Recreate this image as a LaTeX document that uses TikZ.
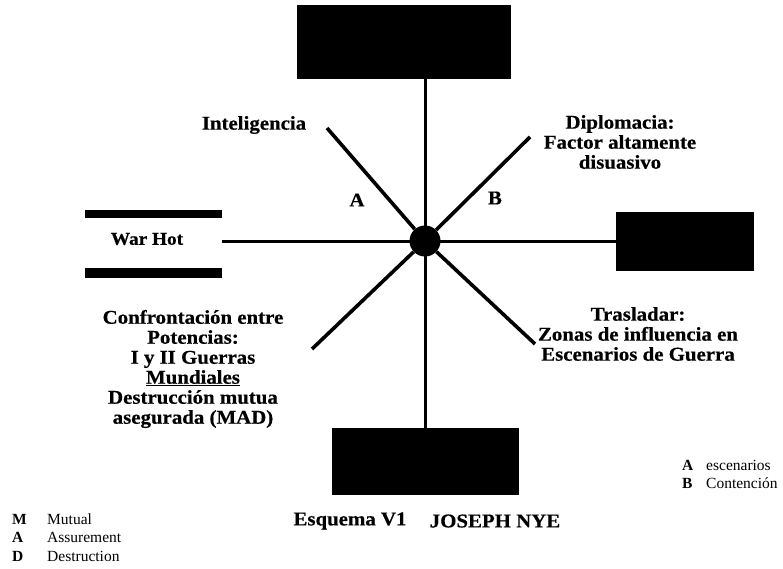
\documentclass[tikz,border=0pt]{standalone}
\usepackage{fontspec}
\setmainfont{Liberation Serif}
\newfontfamily\widefont[FakeStretch=1.07,BoldFeatures={FakeBold=0.5}]{Liberation Serif}
\begin{document}
\begin{tikzpicture}[x=1pt,y=-1pt,
  blackbox/.style={fill=black,draw=black,inner sep=0pt},
  spoke/.style={line width=3.6pt},
  stem/.style={line width=3pt},
  lbl/.style={font=\fontsize{19.5}{20}\widefont\bfseries,align=center,inner sep=0pt},
  leg/.style={font=\fontsize{15.5}{18}\selectfont,anchor=base west,inner sep=0pt},
  legkey/.style={font=\fontsize{15.5}{18}\selectfont\bfseries,anchor=base west,inner sep=0pt}]
\useasboundingbox (0,0) rectangle (783,569);
% boxes
\node[blackbox,minimum width=213pt,minimum height=73pt] (top) at (403.5,41.5) {};
\node[blackbox,minimum width=186pt,minimum height=66pt] (bottom) at (425,461) {};
\node[blackbox,minimum width=137pt,minimum height=58pt] (right) at (684.5,241) {};
\node[inner sep=0pt,minimum width=137pt,minimum height=50pt] (warhot) at (153.5,243) {};
\node[font=\fontsize{18}{18}\widefont\bfseries,inner sep=0pt] (warhottext) at (147,239) {War Hot};
\fill (warhot.north west) rectangle ([yshift=8pt]warhot.north east);
\fill ([yshift=-10pt]warhot.south west) rectangle (warhot.south east);
% center
\node[circle,fill=black,minimum size=31pt,inner sep=0pt] (c) at (425,241) {};
\coordinate (nw) at (327,128);
\coordinate (ne) at (530,137);
\coordinate (sw) at (312,349);
\coordinate (se) at (535,344);
\draw[stem] (top.south -| c) -- (bottom.north -| c);
\draw[stem] (warhot.east |- c) -- (right.west |- c);
\draw[spoke] (c) -- (nw);
\draw[spoke] (c) -- (ne);
\draw[spoke] (c) -- (sw);
\draw[spoke] (c) -- (se);
% labels
\node[lbl] (intel) at (254,125) {Inteligencia};
\node[lbl] (la) at (357,200) {A};
\node[lbl] (lb) at (495,198) {B};
\node[lbl] (diplo) at (620,142) {Diplomacia:\\Factor altamente\\disuasivo};
\node[lbl] (confr) at (193,369) {Confrontación entre\\Potencias:\\I y II Guerras\\\underline{Mundiales}\\Destrucción mutua\\asegurada (MAD)};
\node[lbl] (trasl) at (638,334) {Trasladar:\\Zonas de influencia en\\Escenarios de Guerra};
\node[lbl] (esq) at (350,521) {Esquema V1};
\node[lbl] (nye) at (495,521) {JOSEPH NYE};
% legends
\node[legkey] (ka) at (682,470) {A};
\node[leg] (ea) at (706,470) {escenarios};
\node[legkey] (kb) at (682,488) {B};
\node[leg] (eb) at (706,488) {Contención};
\node[legkey] (km) at (12,524) {M};
\node[leg] (em) at (47,524) {Mutual};
\node[legkey] (kma) at (12,542) {A};
\node[leg] (ema) at (47,542) {Assurement};
\node[legkey] (kmd) at (12,561) {D};
\node[leg] (emd) at (47,561) {Destruction};
\end{tikzpicture}
\end{document}
